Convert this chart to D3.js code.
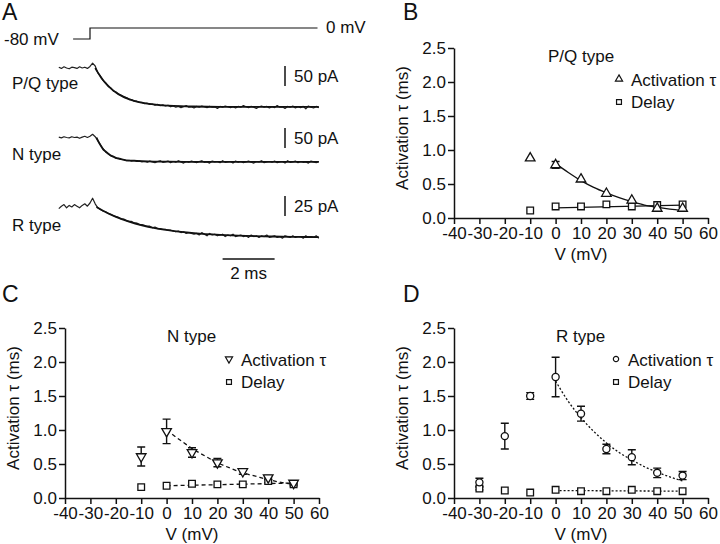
<!DOCTYPE html>
<html><head><meta charset="utf-8">
<script src="https://cdn.jsdelivr.net/npm/d3@7"></script>
<style>
body{margin:0;background:#fff}
svg{display:block}
text{font-family:"Liberation Sans",Arial,sans-serif;fill:#111}
</style></head><body>
<svg id="fig" width="720" height="544"></svg>
<script>
// ---------- Panel A data: example current traces (pA), sampled every 0.1 ms from -1.2 ms ----------
const traceStartMs = -1.2, traceStepMs = 0.1;
const tracePQ = [2,-1,3,0,-2,2,1,-1,3,0,2,-1,4,
 12,5,-12,-20,-31,-37,-46,-50,-58,-60,-66,-68,-73,-74,-79,-79,-83,-83,-86,-86,-89,-88,-91,-90,-93,-91,-94,-92,-95,-93,
 -97,-95,-98,-96,-99,-97,-94,-98,-97,-100,
 -96,-98,-95,-97,-99,-96,-98,-97,-101,-96,
 -98,-95,-97,-99,-97,-100,-96,-98,-94,-97,
 -99,-96,-98,-101,-97,-95,-98,-96,-100,-97,
 -99,-94,-98,-97,-101,-96,-98,-95,-100,-97,
 -99,-96,-102,-95,-98,-100,-96,-99];
const traceN = [1,-1,2,0,-1,2,0,1,-2,1,3,0,3,
 8,2,-8,-18,-28,-36,-40,-46,-47,-52,-52,-55,-55,-58,-57,-59,-58,-60,-59,-61,
 -60,-62,-59,-61,-63,-60,-58,-62,-61,-59,
 -63,-60,-62,-58,-61,-64,-60,-62,-59,-61,
 -63,-60,-58,-62,-61,-64,-59,-61,-60,-63,
 -58,-62,-61,-60,-64,-59,-62,-60,-63,-61,
 -59,-62,-64,-60,-61,-58,-63,-61,-60,-62,
 -59,-63,-61,-60,-64,-58,-62,-61,-59,-63,
 -60,-62,-61,-64,-59,-61,-63,-60];
const traceR = [-2,1,3,-1,2,0,3,1,-1,2,4,1,5,
 11,4,-1,-3,-5,-6,-8,-9,-11,-12,
 -13,-15,-15,-17,-18,-18,-20,-20,-22,-22,
 -23,-24,-24,-26,-25,-27,-27,-28,-28,-29,
 -29,-30,-31,-30,-32,-31,-33,-32,-33,-34,
 -33,-35,-32,-34,-36,-33,-35,-34,-36,-35,
 -34,-37,-35,-36,-34,-37,-36,-35,-37,-36,
 -38,-35,-37,-36,-38,-36,-37,-35,-38,-37,
 -36,-38,-37,-39,-36,-37,-38,-36,-38,-37,
 -37,-39,-36,-38,-37,-38,-36,-39];
// exponential fits overlaid on the traces (time ms, current pA)
const fitPQ_t = [0.2,0.3,0.4,0.5,0.6,0.8,1.0,1.2,1.5,1.8,2.2,2.6,3.0,3.5,4,5,6,7,8,8.8];
const fitPQ_v = [0,-11,-21,-30,-38,-51,-61,-69,-78,-84,-89,-92,-94,-95.5,-96.3,-97,-97,-97,-97,-97];
const fitN_t = [0.25,0.3,0.4,0.5,0.6,0.7,0.8,0.9,1.0,1.2,1.4,1.7,2.0,3,5,7,8.8];
const fitN_v = [0,-7,-19,-29,-35,-40.5,-45,-48,-51,-54,-57,-58,-59,-60.5,-61,-61,-61];
const fitR_t = [0.25,0.5,1,1.5,2,2.5,3,3.5,4,5,6,7,8,8.8];
const fitR_v = [0,-4.7,-12.4,-18.3,-22.9,-26.4,-29,-31.1,-32.7,-34.9,-36.2,-36.9,-37.4,-37.6];
// voltage protocol
const stepTimes = [-0.65, 0, 8.75];
const stepLevels = [-80, 0];
const traceLabels = ["P/Q type", "N type", "R type"];
const scaleBarPA = [50, 50, 25];
const timeBarMs = 2;

// ---------- Panels B-D data ----------
const xTicks = [-40,-30,-20,-10,0,10,20,30,40,50,60];
const yTicks = [0,0.5,1.0,1.5,2.0,2.5];

const vB = [-10,0,10,20,30,40,50];
const actB = [0.88,0.78,0.57,0.36,0.26,0.14,0.14];
const actErrB = [0,0.05,0,0,0,0,0];
const delayB = [0.11,0.17,0.17,0.20,0.17,0.19,0.20];
const delayErrB = [0,0,0,0,0,0,0];
const fitVB = [0,5,10,15,20,25,30,35,40,45,50];
const fitActB = [0.80,0.67,0.55,0.45,0.37,0.30,0.24,0.19,0.16,0.13,0.11];
const fitDelayVB = [0,50];
const fitDelayB = [0.15,0.19];

const vC = [-10,0,10,20,30,40,50];
const actC = [0.61,0.98,0.67,0.52,0.39,0.30,0.22];
const actErrC = [0.14,0.18,0.07,0.06,0.04,0.03,0.02];
const delayC = [0.16,0.18,0.21,0.20,0.20,0.25,0.20];
const delayErrC = [0,0,0,0,0,0.02,0.02];
const fitVC = [0,5,10,15,20,25,30,35,40,45,50];
const fitActC = [1.0,0.86,0.73,0.62,0.52,0.44,0.37,0.32,0.27,0.23,0.20];
const fitDelayVC = [0,50];
const fitDelayC = [0.18,0.22];

const vD = [-30,-20,-10,0,10,20,30,40,50];
const actD = [0.23,0.91,1.50,1.78,1.24,0.72,0.60,0.37,0.33];
const actErrD = [0.06,0.19,0.05,0.29,0.11,0.07,0.11,0.07,0.06];
const delayD = [0.14,0.11,0.08,0.12,0.10,0.10,0.12,0.10,0.10];
const delayErrD = [0.02,0,0,0,0,0,0,0,0];
const fitVD = [0,5,10,15,20,25,30,35,40,45,50];
const fitActD = [1.72,1.42,1.18,0.98,0.81,0.67,0.56,0.46,0.38,0.31,0.25];
const fitDelayVD = [0,50];
const fitDelayD = [0.11,0.10];

// ---------- drawing ----------
const svg = d3.select("#fig");
const FS = 17;
const FONT = '"Liberation Sans",Arial,sans-serif';

// Panel letters
[["A",2,20],["B",403,20],["C",2,302],["D",403,302]].forEach(([t,x,y]) =>
  svg.append("text").attr("x",x).attr("y",y).attr("font-size",23).text(t));

// ----- Panel A -----
const tx = d3.scaleLinear().domain([0, 10]).range([90, 350]);
const vy = d3.scaleLinear().domain([-80, 0]).range([39, 28]);
svg.append("path")
  .attr("d", `M${tx(stepTimes[0])},${vy(stepLevels[0])}H${tx(stepTimes[1])}V${vy(stepLevels[1])}H${tx(stepTimes[2])}`)
  .attr("fill","none").attr("stroke","#111").attr("stroke-width",1.2);
svg.append("text").attr("x",4).attr("y",45).attr("font-size",FS).text(stepLevels[0] + " mV");
svg.append("text").attr("x",326).attr("y",33).attr("font-size",FS).text(stepLevels[1] + " mV");

const traces = [
  {data: tracePQ, ft: fitPQ_t, fv: fitPQ_v, y: d3.scaleLinear().domain([0,50]).range([68,48]), labelY: 89, barLow: -45},
  {data: traceN, ft: fitN_t, fv: fitN_v, y: d3.scaleLinear().domain([0,50]).range([137.5,117.5]), labelY: 160, barLow: -26},
  {data: traceR, ft: fitR_t, fv: fitR_v, y: d3.scaleLinear().domain([0,25]).range([207,187]), labelY: 231, barLow: -11.25}
];
traces.forEach((tr, k) => {
  const ln = d3.line().x((d,i) => tx(traceStartMs + i*traceStepMs)).y(d => tr.y(d));
  svg.append("path").datum(tr.data).attr("d", ln)
    .attr("fill","none").attr("stroke","#222").attr("stroke-width",1.2).attr("stroke-linejoin","round");
  const fl = d3.line().x((d,i) => tx(tr.ft[i])).y(d => tr.y(d)).curve(d3.curveMonotoneX);
  svg.append("path").datum(tr.fv).attr("d", fl)
    .attr("fill","none").attr("stroke","#111").attr("stroke-width",1.8);
  svg.append("text").attr("x",12).attr("y",tr.labelY).attr("font-size",FS).text(traceLabels[k]);
  // vertical scale bar
  svg.append("line").attr("x1",tx(7.5)).attr("x2",tx(7.5))
    .attr("y1",tr.y(tr.barLow)).attr("y2",tr.y(tr.barLow + scaleBarPA[k]))
    .attr("stroke","#111").attr("stroke-width",1.5);
  svg.append("text").attr("x",tx(7.5)+9).attr("y",tr.y(tr.barLow)-4).attr("font-size",FS)
    .text(scaleBarPA[k] + " pA");
});
// time scale bar
svg.append("line").attr("x1",tx(5.1)).attr("x2",tx(5.1+timeBarMs)).attr("y1",259).attr("y2",259)
  .attr("stroke","#111").attr("stroke-width",1.5);
svg.append("text").attr("x",(tx(5.1)+tx(5.1+timeBarMs))/2).attr("y",279).attr("text-anchor","middle")
  .attr("font-size",FS).text(timeBarMs + " ms");

// ----- Panels B-D -----
function panel(cfg) {
  const g = svg.append("g");
  const x = d3.scaleLinear().domain([-40,60]).range([cfg.x0, cfg.x1]);
  const y = d3.scaleLinear().domain([0,2.5]).range([cfg.y0, cfg.y1]);
  const ax = g.append("g").attr("transform",`translate(0,${cfg.y0})`)
    .call(d3.axisBottom(x).tickValues(xTicks).tickSize(6).tickSizeOuter(0).tickPadding(3).tickFormat(d => String(d)));
  const ay = g.append("g").attr("transform",`translate(${cfg.x0},0)`)
    .call(d3.axisLeft(y).tickValues(yTicks).tickSize(6).tickSizeOuter(0).tickPadding(2).tickFormat(d3.format(".1f")));
  [ax, ay].forEach(a => {
    a.selectAll("path,line").attr("stroke","#111").attr("stroke-width",1.5);
    a.selectAll("text").attr("font-size",FS).attr("font-family",FONT).attr("fill","#111");
  });
  g.append("text").attr("x",(cfg.x0+cfg.x1)/2).attr("y",cfg.y0+42).attr("text-anchor","middle")
    .attr("font-size",FS).text("V (mV)");
  g.append("text").attr("transform",`translate(${cfg.x0-46},${(cfg.y0+cfg.y1)/2 - 5}) rotate(-90)`)
    .attr("text-anchor","middle").attr("font-size",FS).text("Activation τ (ms)");

  // fits
  const fitLine = (vs, ys) => d3.line().x((d,i) => x(vs[i])).y(d => y(d)).curve(d3.curveMonotoneX)(ys);
  g.append("path").attr("d", fitLine(cfg.fitV, cfg.fitAct)).attr("fill","none")
    .attr("stroke","#111").attr("stroke-width",1.3).attr("stroke-dasharray",cfg.dash);
  g.append("path").attr("d", fitLine(cfg.fitDelayV, cfg.fitDelay)).attr("fill","none")
    .attr("stroke","#111").attr("stroke-width",1.3).attr("stroke-dasharray",cfg.dash);

  // error bars
  function errBars(vs, vals, errs) {
    vs.forEach((v,i) => {
      if (!errs[i]) return;
      const xx = x(v), y1 = y(vals[i]-errs[i]), y2 = y(vals[i]+errs[i]);
      g.append("path").attr("d",`M${xx},${y1}V${y2}M${xx-4},${y1}H${xx+4}M${xx-4},${y2}H${xx+4}`)
        .attr("stroke","#111").attr("stroke-width",1.4).attr("fill","none");
    });
  }
  errBars(cfg.v, cfg.delay, cfg.delayErr);
  errBars(cfg.v, cfg.act, cfg.actErr);

  const sq = d3.symbol().type(d3.symbolSquare).size(44)();
  const act = d3.symbol().type(cfg.sym).size(cfg.symSize)();
  g.selectAll(null).data(cfg.delay).join("path").attr("d", sq)
    .attr("transform",(d,i)=>`translate(${x(cfg.v[i])},${y(d)})`)
    .attr("fill","#fff").attr("stroke","#111").attr("stroke-width",1.3);
  g.selectAll(null).data(cfg.act).join("path").attr("d", act)
    .attr("transform",(d,i)=>`translate(${x(cfg.v[i])},${y(d)}) rotate(${cfg.rot})`)
    .attr("fill","#fff").attr("stroke","#111").attr("stroke-width",1.3);

  // legend
  g.append("text").attr("x",cfg.lx).attr("y",cfg.ly).attr("font-size",FS).text(cfg.title);
  const lsq = d3.symbol().type(d3.symbolSquare).size(24)();
  const lact = d3.symbol().type(cfg.sym).size(cfg.symSize*0.55)();
  g.append("path").attr("d",lact).attr("transform",`translate(${cfg.mx},${cfg.ly+17}) rotate(${cfg.rot})`)
    .attr("fill","#fff").attr("stroke","#111").attr("stroke-width",1.2);
  g.append("text").attr("x",cfg.mx+12).attr("y",cfg.ly+24).attr("font-size",FS).text("Activation τ");
  g.append("path").attr("d",lsq).attr("transform",`translate(${cfg.mx},${cfg.ly+40})`)
    .attr("fill","#fff").attr("stroke","#111").attr("stroke-width",1.2);
  g.append("text").attr("x",cfg.mx+12).attr("y",cfg.ly+46).attr("font-size",FS).text("Delay");
}

panel({x0:454, x1:708, y0:218, y1:48, v:vB, act:actB, actErr:actErrB, delay:delayB, delayErr:delayErrB,
  fitV:fitVB, fitAct:fitActB, fitDelayV:fitDelayVB, fitDelay:fitDelayB, dash:null,
  sym:d3.symbolTriangle, symSize:40, rot:0, title:"P/Q type", lx:548, ly:62, mx:619});
panel({x0:65, x1:319, y0:498, y1:328, v:vC, act:actC, actErr:actErrC, delay:delayC, delayErr:delayErrC,
  fitV:fitVC, fitAct:fitActC, fitDelayV:fitDelayVC, fitDelay:fitDelayC, dash:"4,3",
  sym:d3.symbolTriangle, symSize:40, rot:180, title:"N type", lx:167, ly:342, mx:229});
panel({x0:454, x1:708, y0:498, y1:328, v:vD, act:actD, actErr:actErrD, delay:delayD, delayErr:delayErrD,
  fitV:fitVD, fitAct:fitActD, fitDelayV:fitDelayVD, fitDelay:fitDelayD, dash:"2,2",
  sym:d3.symbolCircle, symSize:40, rot:0, title:"R type", lx:556, ly:342, mx:616});
</script>
</body></html>
